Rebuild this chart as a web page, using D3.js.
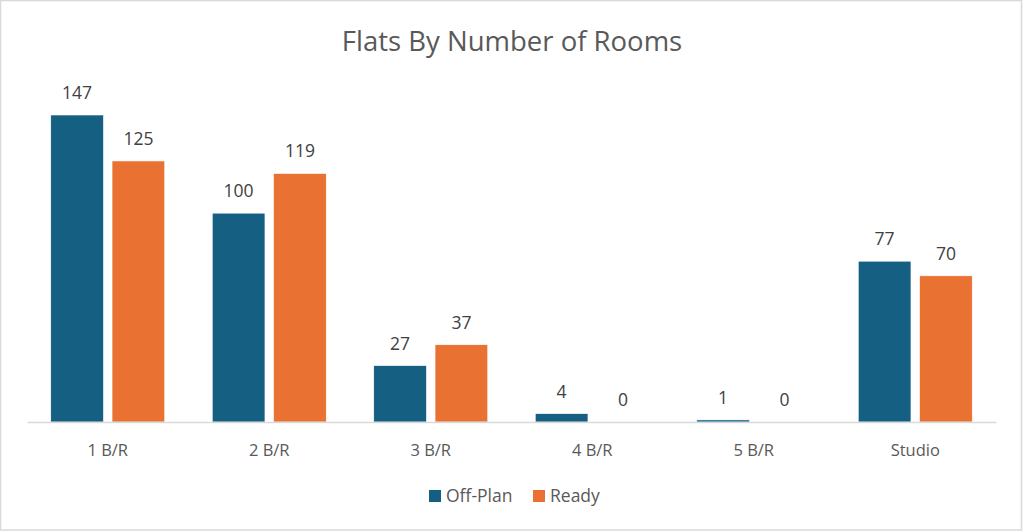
<!DOCTYPE html>
<html>
<head>
<meta charset="utf-8">
<script src="https://cdn.jsdelivr.net/npm/d3@7"></script>
<style>
  html, body { margin: 0; padding: 0; background: #ffffff; }
  svg { display: block; }
  text { font-family: "Open Sans", "Noto Sans", "Liberation Sans", sans-serif; }
</style>
</head>
<body>
<script>
const categories = ["1 B/R", "2 B/R", "3 B/R", "4 B/R", "5 B/R", "Studio"];
const seriesNames = ["Off-Plan", "Ready"];
const offPlan = [147, 100, 27, 4, 1, 77];
const ready = [125, 119, 37, 0, 0, 70];
const colors = ["#156082", "#E97132"];

const W = 1024, H = 532;
const margin = { left: 27, right: 28 };
const baseY = 422;

const svg = d3.select("body").append("svg").attr("width", W).attr("height", H);

svg.append("rect").attr("x", 0.5).attr("y", 0.5).attr("width", W - 3).attr("height", H - 2.5)
  .attr("fill", "#ffffff").attr("stroke", "#d9d9d9").attr("stroke-width", 1.5);

svg.append("text").attr("x", 512).attr("y", 51).attr("text-anchor", "middle")
  .attr("font-size", 27.5).attr("fill", "#595959").text("Flats By Number of Rooms");

const x0 = d3.scaleBand().domain(categories).range([margin.left, W - margin.right]);
const groupW = 114;
const x1 = d3.scaleBand().domain(seriesNames).range([0, groupW]).paddingInner(0.14);
const y = d3.scaleLinear().domain([0, 147]).range([baseY, baseY - 307]);

const data = categories.map((c, i) => ({ cat: c, vals: [offPlan[i], ready[i]] }));

const groups = svg.selectAll("g.grp").data(data).enter().append("g")
  .attr("transform", d => `translate(${x0(d.cat) + x0.bandwidth() / 2 - groupW / 2},0)`);

groups.selectAll("rect").data(d => d.vals.map((v, j) => ({ v, s: seriesNames[j], j })))
  .enter().append("rect")
  .attr("x", d => x1(d.s)).attr("width", x1.bandwidth())
  .attr("y", d => y(d.v)).attr("height", d => baseY - y(d.v))
  .attr("fill", d => colors[d.j]).attr("stroke", "#ffffff").attr("stroke-width", 0.6);

groups.selectAll("text").data(d => d.vals.map((v, j) => ({ v, s: seriesNames[j], j })))
  .enter().append("text")
  .attr("x", d => x1(d.s) + x1.bandwidth() / 2).attr("y", d => y(d.v) - 16)
  .attr("text-anchor", "middle").attr("font-size", 17.5).attr("fill", "#404040")
  .text(d => d.v);

// axis
const axis = svg.append("g").attr("transform", `translate(0,${baseY})`)
  .call(d3.axisBottom(x0).tickSize(0).tickPadding(22));
axis.select(".domain").attr("stroke", "#d9d9d9").attr("stroke-width", 1.5);
axis.selectAll("text").attr("font-size", 16.5).attr("fill", "#595959")
  .style("font-family", '"Open Sans", "Noto Sans", sans-serif');

// legend
const legend = svg.append("g");
const legendItems = [{ name: "Off-Plan", x: 429 }, { name: "Ready", x: 533 }];
legendItems.forEach((it, i) => {
  legend.append("rect").attr("x", it.x).attr("y", 490).attr("width", 12).attr("height", 12).attr("fill", colors[i]);
  legend.append("text").attr("x", it.x + 17).attr("y", 502).attr("font-size", 17.5).attr("fill", "#595959").text(it.name);
});
</script>
</body>
</html>
